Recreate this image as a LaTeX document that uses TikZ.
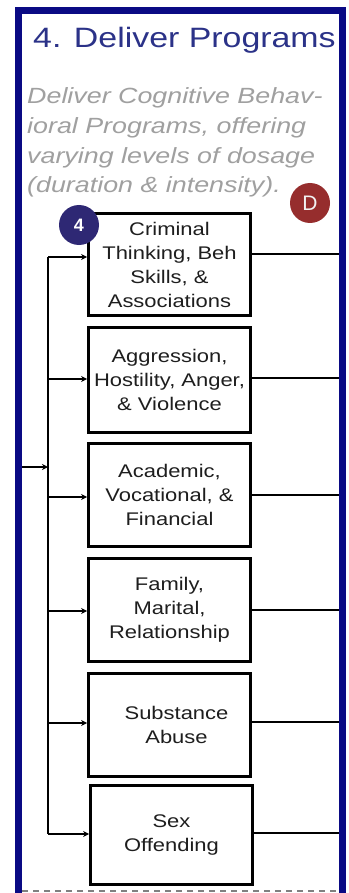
\documentclass[tikz,border=0pt]{standalone}
\usepackage{fontspec}
\setmainfont{Liberation Sans}
\newfontfamily\titlefont[FakeStretch=1.21]{Liberation Sans}
\newfontfamily\subfont[FakeStretch=1.22]{Liberation Sans}
\newfontfamily\boxfont[FakeStretch=1.2]{Liberation Sans}
\usetikzlibrary{arrows.meta}
\definecolor{framenavy}{HTML}{0A0A84}
\definecolor{titleblue}{HTML}{2B3288}
\definecolor{subgray}{HTML}{A0A0A0}
\definecolor{boxtext}{HTML}{1E1E1E}
\definecolor{numpurple}{HTML}{2E2874}
\definecolor{dred}{HTML}{962D2D}
\begin{document}
\begin{tikzpicture}[x=1pt,y=-1pt,
  progbox/.style={draw=black, line width=2.8pt, fill=white, minimum width=162pt,
    minimum height=#1, inner sep=0pt, align=center, text=boxtext,
    font=\boxfont\fontsize{18.3}{24}\selectfont},
  sublines/.style={anchor=base west, inner sep=0pt, text=subgray,
    font=\subfont\itshape\fontsize{22}{29.7}\selectfont},
  conn/.style={line width=2.4pt, draw=black},
  arr/.style={conn, -{Stealth[length=6pt,width=6pt]}},
  badge/.style={circle, minimum size=40pt, inner sep=0pt, text=white}
]
\useasboundingbox (0,0) rectangle (348,893);
\fill[white] (0,0) rectangle (348,893);

% frame
\draw[framenavy, line width=7pt] (18.5,900) -- (18.5,10.5) -- (342,10.5) -- (342,900);

% title and subtitle
\node[anchor=base west, inner sep=0pt, text=titleblue, font=\titlefont\fontsize{28}{32}\selectfont] (title) at (33,48) {4. Deliver Programs};
\node[sublines] (sub1) at (27,104) {Deliver Cognitive Behav-};
\node[sublines] (sub2) at (27,134) {ioral Programs, offering};
\node[sublines] (sub3) at (27,164) {varying levels of dosage};
\node[sublines] (sub4) at (27,193) {(duration \& intensity).};

% boxes
\node[progbox=102.5pt] (n1) at (169.5,264.5) {Criminal\\Thinking, Beh\\Skills, \&\\Associations};
\node[progbox=105.5pt] (n2) at (169.5,380) {Aggression,\\Hostility, Anger,\\\& Violence};
\node[progbox=103.5pt] (n3) at (169.5,495) {Academic,\\Vocational, \&\\Financial};
\node[progbox=103.5pt] (n4) at (169.5,610) {Family,\\Marital,\\Relationship};
\node[progbox=103.5pt] (n5) at (169.5,725) {\hspace*{14pt}Substance\\\hspace*{14pt}Abuse};
\node[progbox=99.5pt] (n6) at (171.5,835) {Sex\\Offending};

% bus coordinates
\coordinate (b1) at (48,257);
\coordinate (b2) at (48,379);
\coordinate (b3) at (48,497);
\coordinate (b4) at (48,611);
\coordinate (b5) at (48,723);
\coordinate (b6) at (48,834);
\coordinate (inL) at (22,467);
\coordinate (inB) at (48,467);

\draw[conn] (b1) -- (b6);
\draw[arr] (inL) -- (inB);
\foreach \i in {1,...,6} { \draw[arr] (b\i) -- (b\i -| n\i.west); }

% right outgoing lines
\coordinate (r1) at (339,254);
\coordinate (r2) at (339,378);
\coordinate (r3) at (339,495);
\coordinate (r4) at (339,610);
\coordinate (r5) at (339,722);
\coordinate (r6) at (339,833);
\foreach \i in {1,...,6} { \draw[conn] (r\i -| n\i.east) -- (r\i); }

% badges
\node[badge, fill=numpurple, font=\bfseries\fontsize{18}{20}\selectfont] (badge4) at (79,225) {4};
\node[badge, fill=dred, text=white!90!gray, font=\fontsize{21}{24}\selectfont] (badgeD) at (310,203) {D};

% dashed bottom line
\draw[gray, line width=2pt, dash pattern=on 6pt off 5pt] (22,891) -- (338,891);
\end{tikzpicture}
\end{document}
